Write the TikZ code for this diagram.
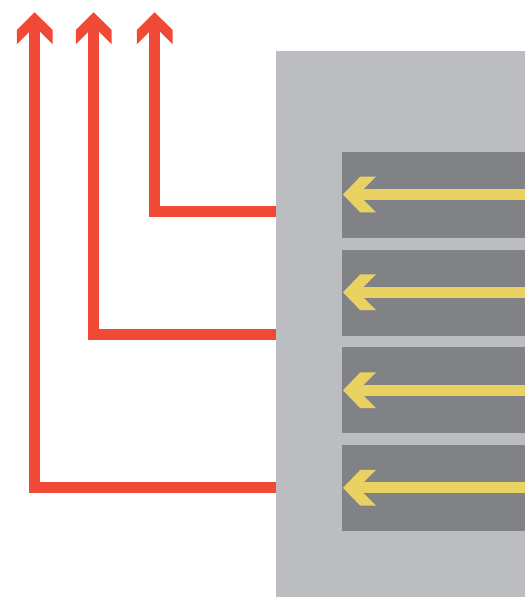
\documentclass[tikz,border=0pt]{standalone}
\definecolor{redA}{HTML}{F04A36}
\definecolor{grayL}{HTML}{BCBDC0}
\definecolor{grayD}{HTML}{818286}
\definecolor{yel}{HTML}{E9D262}
\tikzset{
  redline/.style={draw=redA, line width=10.7pt, line join=miter},
  yelline/.style={draw=yel, line width=10.7pt},
  panelbox/.style={fill=grayL, draw=none, inner sep=0pt, outer sep=0pt},
  lanebox/.style={fill=grayD, draw=none, inner sep=0pt, outer sep=0pt},
  lefthead/.pic={\fill[yel] (0,0) -- (17.3,-17.9) -- (33,-17.9) -- (20.4,-5.35) -- (20.4,5.35) -- (33,17.9) -- (17.3,17.9) -- cycle;},
  uphead/.pic={\fill[redA] (0,0) -- (-17.9,17.7) -- (-17.9,32) -- (-5.35,19.5) -- (5.35,19.5) -- (17.9,32) -- (17.9,17.7) -- cycle;},
}
\begin{document}
\begin{tikzpicture}[x=1pt,y=-1pt]
\useasboundingbox (0,0) rectangle (525,597);
% panel and lanes
\fill[grayL] (276,51) rectangle (525,597);
\fill[grayD] (342,152) rectangle (525,237.8);
\fill[grayD] (342,250) rectangle (525,335.7);
\fill[grayD] (342,347) rectangle (525,432.8);
\fill[grayD] (342,445) rectangle (525,530.8);
% yellow arrows
\foreach \yc [count=\i] in {194.5,292.3,390.3,487.8}{
  \coordinate (ys\i) at (525,\yc);
  \coordinate (yt\i) at (362,\yc);
  \draw[yelline] (ys\i) -- (yt\i);
  \pic at (343,\yc) {lefthead};
}
% red arrows
\coordinate (r1s) at (276,487.5);
\coordinate (r1c) at (34.7,487.5);
\coordinate (r1e) at (34.7,30);
\coordinate (r2s) at (276,334.5);
\coordinate (r2c) at (93.7,334.5);
\coordinate (r2e) at (93.7,30);
\coordinate (r3s) at (276,211.8);
\coordinate (r3c) at (154.7,211.8);
\coordinate (r3e) at (154.7,30);
\draw[redline] (r1s) -- (r1c) -- (r1e);
\draw[redline] (r2s) -- (r2c) -- (r2e);
\draw[redline] (r3s) -- (r3c) -- (r3e);
\pic at (34.7,12.3) {uphead};
\pic at (93.7,12.3) {uphead};
\pic at (154.7,12.3) {uphead};
\end{tikzpicture}
\end{document}
